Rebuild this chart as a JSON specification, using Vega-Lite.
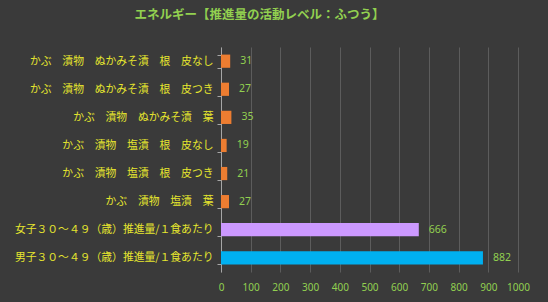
{
  "$schema": "https://vega.github.io/schema/vega-lite/v6.json",
  "width": 297,
  "height": 225,
  "autosize": {"type": "none"},
  "padding": {"left": 221, "top": 47, "right": 30, "bottom": 30},
  "background": "#3a3a3a",
  "title": {
    "text": "エネルギー【推進量の活動レベル：ふつう】",
    "color": "#92d050",
    "font": "Noto Sans CJK JP",
    "fontSize": 12.5,
    "fontWeight": "bold",
    "anchor": "middle",
    "dx": -110,
    "offset": 20
  },
  "data": {
    "values": [
      {"name": "かぶ　漬物　ぬかみそ漬　根　皮なし", "value": 31, "group": "food"},
      {"name": "かぶ　漬物　ぬかみそ漬　根　皮つき", "value": 27, "group": "food"},
      {"name": "かぶ　漬物　ぬかみそ漬　葉", "value": 35, "group": "food"},
      {"name": "かぶ　漬物　塩漬　根　皮なし", "value": 19, "group": "food"},
      {"name": "かぶ　漬物　塩漬　根　皮つき", "value": 21, "group": "food"},
      {"name": "かぶ　漬物　塩漬　葉", "value": 27, "group": "food"},
      {"name": "女子３０～４９（歳）推進量/１食あたり", "value": 666, "group": "female"},
      {"name": "男子３０～４９（歳）推進量/１食あたり", "value": 882, "group": "male"}
    ]
  },
  "encoding": {
    "y": {
      "field": "name",
      "type": "nominal",
      "sort": null,
      "scale": {"paddingInner": 0.53, "paddingOuter": 0.27},
      "axis": {
        "title": null,
        "tickBand": "extent",
        "domainColor": "#a6a6a6",
        "tickColor": "#a6a6a6",
        "tickSize": 4,
        "labelColor": "#e6e62e",
        "labelFont": "Noto Sans CJK JP",
        "labelFontSize": 10.8,
        "labelLimit": 300,
        "labelPadding": 4,
        "grid": false
      }
    },
    "x": {
      "field": "value",
      "type": "quantitative",
      "scale": {"domain": [0, 1000]},
      "axis": {
        "title": null,
        "values": [0,100,200,300,400,500,600,700,800,900,1000],
        "format": "d",
        "labelOverlap": false,
        "labelFlush": false,
        "domain": false,
        "ticks": false,
        "grid": true,
        "gridColor": "#5c5c5c",
        "gridWidth": 1,
        "labelColor": "#92d050",
        "labelFont": "Noto Sans",
        "labelFontSize": 10,
        "labelPadding": 10
      }
    }
  },
  "layer": [
    {
      "mark": {"type": "bar"},
      "encoding": {
        "color": {
          "field": "group",
          "type": "nominal",
          "scale": {"domain": ["food", "female", "male"], "range": ["#ed7d31", "#cc99ff", "#00b0f0"]},
          "legend": null
        }
      }
    },
    {
      "mark": {"type": "text", "align": "left", "dx": 10, "font": "Noto Sans", "fontSize": 10.5, "color": "#92d050"},
      "encoding": {"text": {"field": "value", "type": "quantitative"}}
    }
  ],
  "config": {"view": {"stroke": null}}
}
